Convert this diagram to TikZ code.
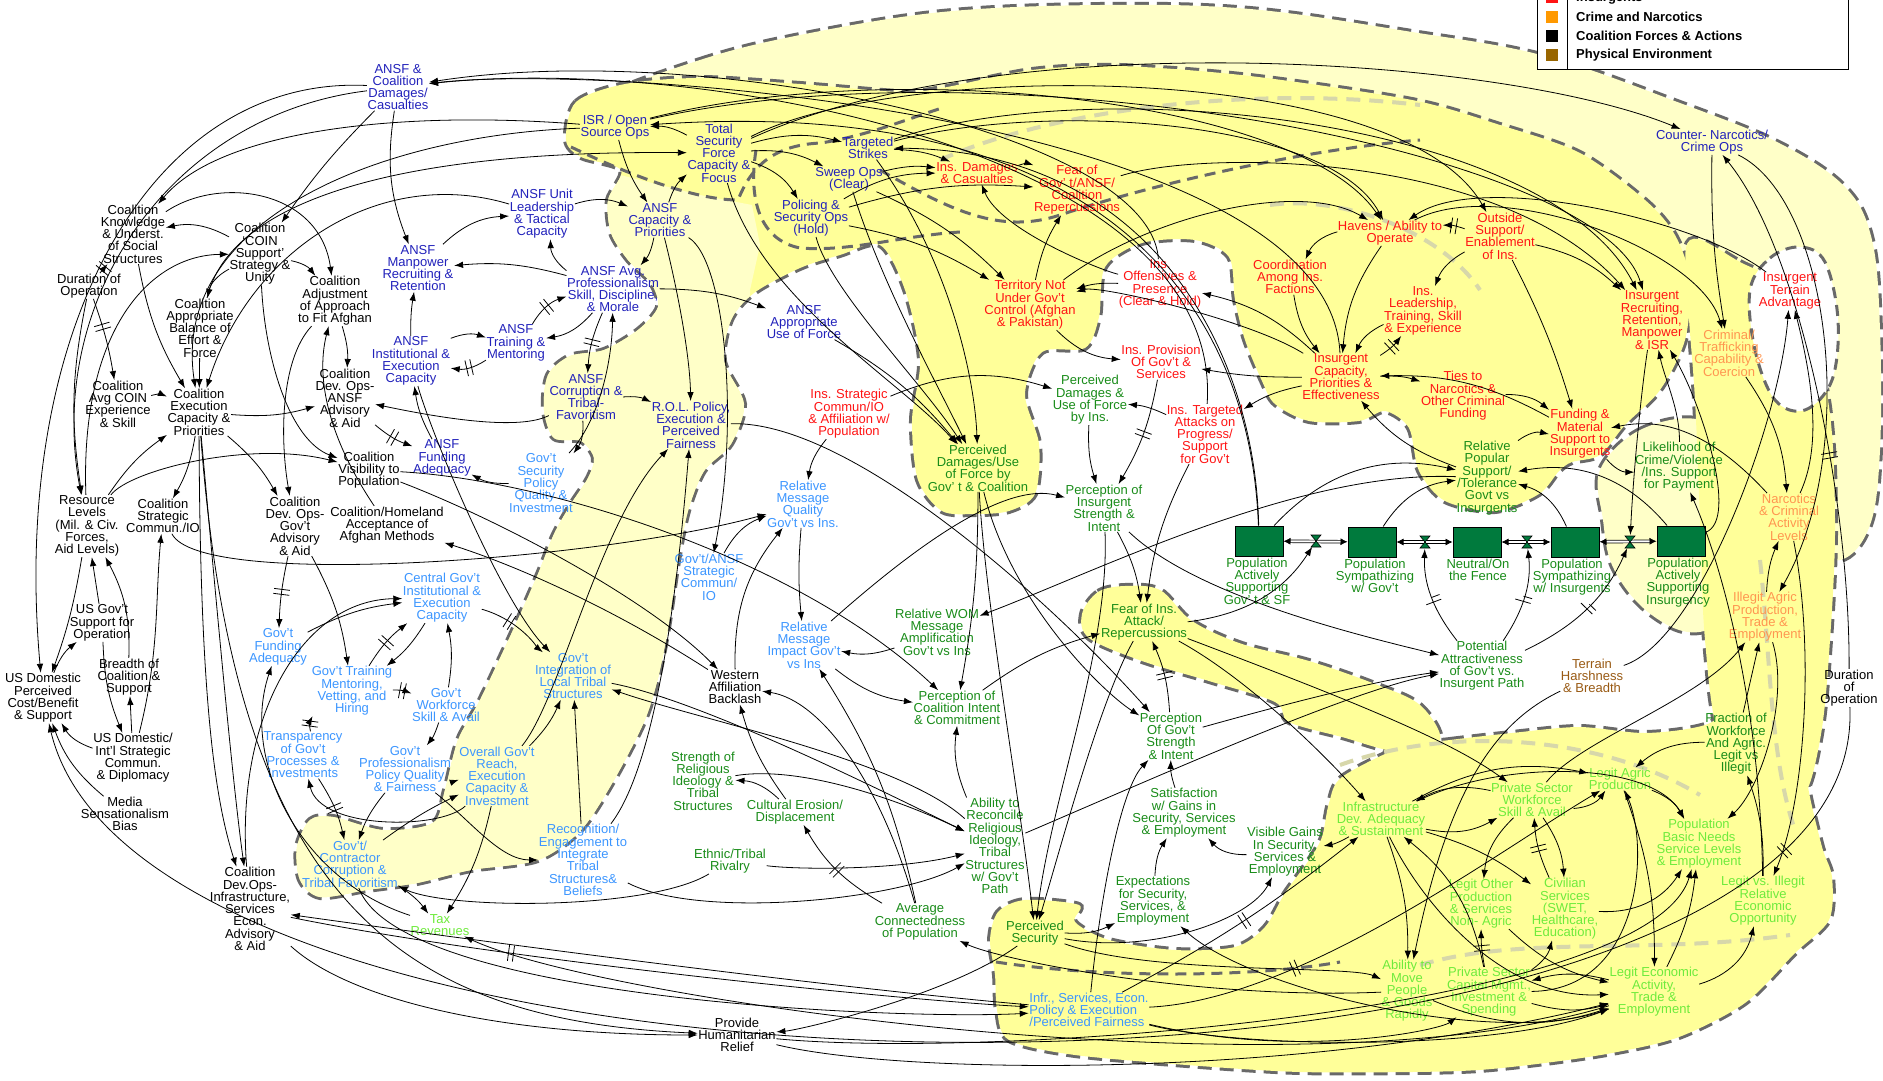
\documentclass[tikz,border=0pt]{standalone}
\usepackage{fontspec}
\setmainfont{Liberation Sans}
\usetikzlibrary{arrows.meta,decorations.markings}
\definecolor{cdb}{RGB}{34,34,187}
\definecolor{clb}{RGB}{60,150,255}
\definecolor{cred}{RGB}{255,20,20}
\definecolor{corg}{RGB}{255,150,80}
\definecolor{cgrn}{RGB}{25,140,25}
\definecolor{clg}{RGB}{110,235,60}
\definecolor{cbrn}{RGB}{153,90,20}
\definecolor{ypale}{RGB}{255,255,200}
\definecolor{ystrong}{RGB}{255,255,153}
\definecolor{bordgray}{RGB}{105,105,105}
\definecolor{lightdash}{RGB}{215,215,170}
\definecolor{stockgreen}{RGB}{0,122,61}
\definecolor{legorange}{RGB}{255,153,0}
\definecolor{legbrown}{RGB}{153,102,0}
\tikzset{
 nd/.style={align=center, inner sep=0.5pt, font=\fontsize{13}{12.3}\selectfont},
 tblk/.style={nd, text=black}, tdb/.style={nd, text=cdb}, tlb/.style={nd, text=clb},
 trd/.style={nd, text=cred}, tog/.style={nd, text=corg}, tgn/.style={nd, text=cgrn},
 tlg/.style={nd, text=clg}, tbn/.style={nd, text=cbrn},
 lnk/.style={-{Latex[length=9pt,width=6.5pt]}, line width=0.8pt, draw=black},
 dly/.style={postaction={decorate, decoration={markings, mark=at position #1 with {\draw[-, line width=0.8pt] (-2.5pt,-8pt) -- (-2.5pt,8pt) (2.5pt,-8pt) -- (2.5pt,8pt);}}}},
 dly/.default=0.5,
 blobborder/.style={draw=bordgray, line width=6pt, dash pattern=on 14pt off 8pt},
 idash/.style={draw=bordgray, line width=3pt, dash pattern=on 11pt off 7pt},
 ldash/.style={draw=lightdash, line width=4pt, dash pattern=on 14pt off 9pt},
 stockbox/.style={draw=black, fill=stockgreen, line width=1pt, minimum width=48pt, minimum height=30pt, inner sep=0pt},
 pipeln/.style={{Latex[length=7pt,width=7pt]}-{Latex[length=7pt,width=7pt]}, line width=0.7pt, double=white, double distance=2pt},
 valvepic/.pic={\draw[fill=stockgreen, line width=0.6pt] (-5,-6) -- (5,-6) -- (-5,6) -- (5,6) -- cycle;},
 legtxt/.style={anchor=west, inner sep=0pt, font=\bfseries\fontsize{13}{14}\selectfont}
}
\newcommand\BlobLight{plot[smooth cycle, tension=0.6] coordinates {(600,100) (700,60) (800,35) (942,12) (1100,5) (1250,9) (1412,32) (1545,56) (1680,103) (1779,143) (1845,187) (1872,240) (1880,330) (1880,450) (1870,525) (1840,560) (1795,540) (1745,420) (1690,300) (1600,220) (1400,160) (1100,140) (800,130) (640,125)}}
\newcommand\BlobMain{plot[smooth cycle, tension=0.5] coordinates {(566,140) (576,102) (625,84) (700,78) (800,84) (900,92) (942,88) (1032,70) (1120,66) (1250,76) (1412,100) (1500,125) (1580,153) (1645,200) (1675,235) (1690,280) (1685,340) (1660,390) (1625,425) (1600,455) (1572,462) (1559,471) (1539,494) (1495,511) (1445,501) (1419,471) (1409,428) (1385,411) (1359,421) (1309,421) (1275,404) (1262,381) (1245,340) (1235,300) (1229,257) (1195,240) (1142,243) (1105,267) (1099,317) (1085,348) (1042,352) (1025,394) (1039,444) (1035,494) (1009,511) (975,514) (942,511) (918,480) (912,420) (920,360) (905,290) (880,245) (840,255) (800,268) (754,293) (731,320) (724,361) (744,404) (731,444) (704,471) (688,511) (678,561) (668,628) (658,678) (644,722) (614,780) (581,830) (538,860) (471,870) (417,883) (367,890) (320,897) (300,880) (297,847) (310,820) (333,817) (383,830) (433,823) (445,790) (458,740) (480,700) (514,628) (538,574) (554,534) (571,504) (588,478) (594,458) (581,441) (554,438) (544,410) (548,375) (570,356) (604,350) (638,330) (658,307) (651,283) (628,260) (611,233) (608,200) (621,170) (581,157)}}
\newcommand\BlobStrip{plot[smooth cycle, tension=0.6] coordinates {(1690,240) (1740,262) (1800,300) (1828,400) (1835,520) (1830,640) (1820,740) (1800,800) (1760,790) (1720,740) (1705,640) (1700,520) (1695,400) (1688,300)}}
\newcommand\BlobLikeli{plot[smooth cycle, tension=0.6] coordinates {(1600,470) (1640,430) (1700,420) (1738,460) (1745,540) (1738,600) (1712,628) (1679,630) (1640,605) (1612,565) (1603,520)}}
\newcommand\BlobFear{plot[smooth cycle, tension=0.55] coordinates {(1082,614) (1098,592) (1125,586) (1160,590) (1192,621) (1242,644) (1309,661) (1375,684) (1420,705) (1440,740) (1400,752) (1342,737) (1289,722) (1275,702) (1209,681) (1142,661) (1089,638)}}
\newcommand\BlobBottom{plot[smooth cycle, tension=0.5] coordinates {(1402,747) (1450,740) (1512,733) (1579,727) (1645,733) (1705,725) (1750,700) (1800,720) (1808,787) (1822,847) (1832,877) (1829,920) (1795,953) (1745,1003) (1679,1037) (1612,1053) (1545,1063) (1479,1070) (1412,1072) (1300,1072) (1200,1066) (1075,1055) (1009,1040) (997,1010) (995,975) (990,940) (998,912) (1025,900) (1079,905) (1075,922) (1109,940) (1175,950) (1235,947) (1265,927) (1285,893) (1309,860) (1322,837) (1329,803) (1342,777)}}
\newcommand\BlobHole{plot[smooth cycle, tension=0.6] coordinates {(1750,290) (1770,258) (1800,247) (1825,262) (1838,320) (1832,380) (1805,410) (1775,400) (1755,350)}}
\begin{document}
\begin{tikzpicture}[x=1pt,y=-1pt]
\useasboundingbox (0,0) rectangle (1883,1081);
\clip (0,0) rectangle (1883,1081);
\fill[white] (0,0) rectangle (1883,1081);
% ---------- regions ----------
\draw[blobborder] \BlobLight;
\fill[ypale] \BlobLight;
\draw[blobborder] \BlobMain;
\draw[blobborder] \BlobStrip;
\draw[blobborder] \BlobLikeli;
\draw[blobborder] \BlobFear;
\draw[blobborder] \BlobBottom;
\fill[ystrong] \BlobMain;
\begin{scope}
\clip \BlobMain;
\fill[ypale] (560,160) -- (700,195) -- (752,205) -- (760,245) -- (750,290) -- (760,950) -- (270,950) -- (270,800) -- (500,600) -- (530,340) -- cycle;
\end{scope}
\fill[ypale] \BlobLikeli;
\fill[ystrong] \BlobStrip;
\fill[ystrong] \BlobFear;
\fill[ystrong] \BlobBottom;
\draw[draw=bordgray, line width=3pt, dash pattern=on 11pt off 7pt, fill=white] \BlobHole;
\draw[ldash] (940,160) .. controls (1050,110) and (1250,85) .. (1420,105);
\draw[ldash] (1270,205) .. controls (1340,195) and (1440,230) .. (1480,290);
\draw[ldash] (1340,765) .. controls (1450,725) and (1600,735) .. (1700,795);
\draw[ldash] (1420,965) .. controls (1520,935) and (1650,955) .. (1790,935);
\draw[ldash] (1760,560) .. controls (1770,650) and (1770,760) .. (1795,830);
\draw[idash] (571,147) .. controls (640,180) and (700,200) .. (738,200) .. controls (750,170) and (770,145) .. (821,143) .. controls (870,135) and (910,118) .. (942,108);
\draw[idash] (756,150) .. controls (748,200) and (760,240) .. (800,248) .. controls (850,252) and (900,236) .. (960,232);
\draw[idash] (880,170) .. controls (950,210) and (1000,235) .. (1060,215) .. controls (1150,185) and (1300,150) .. (1420,140);
\draw[idash] (996,962) .. controls (1100,978) and (1250,978) .. (1340,962);
% ---------- nodes ----------
\node[tblk] (cknow) at (133,234) {Coalition\\Knowledge\\\& Underst.\\of Social\\Structures};
\node[tblk] (dura) at (89,286) {Duration of\\Operation};
\node[tblk] (coin) at (260,254) {Coalition\\‘COIN\\Support’\\Strategy \&\\Unity};
\node[tblk] (cbal) at (200,328) {Coalition\\Appropriate\\Balance of\\Effort \&\\Force};
\node[tblk] (cadj) at (335,301) {Coalition\\Adjustment\\of Approach\\to Fit Afghan};
\node[tblk] (cavg) at (118,404) {Coalition\\Avg COIN\\Experience\\\& Skill};
\node[tblk] (cexec) at (199,412) {Coalition\\Execution\\Capacity \&\\Priorities};
\node[tblk] (cdevansf) at (345,398) {Coalition\\Dev. Ops-\\ANSF\\Advisory\\\& Aid};
\node[tblk] (cvis) at (369,470) {Coalition\\Visibility to\\Population};
\node[tblk] (res) at (87,526) {Resource\\Levels\\(Mil. \& Civ.\\Forces,\\Aid Levels)};
\node[tblk] (cstrat) at (163,516) {Coalition\\Strategic\\Commun./IO};
\node[tblk] (cdevgov) at (295,526) {Coalition\\Dev. Ops-\\Gov’t\\Advisory\\\& Aid};
\node[tblk] (chome) at (387,525) {Coalition/Homeland\\Acceptance of\\Afghan Methods};
\node[tblk] (usgov) at (102,623) {US Gov’t\\Support for\\Operation};
\node[tblk] (usdom) at (43,698) {US Domestic\\Perceived\\Cost/Benefit\\\& Support};
\node[tblk] (breadth) at (129,677) {Breadth of\\Coalition \&\\Support};
\node[tblk] (usintl) at (133,758) {US Domestic/\\Int’l  Strategic\\Commun.\\\& Diplomacy};
\node[tblk] (media) at (125,814) {Media\\Sensationalism\\Bias};
\node[tblk] (cdevinf) at (250,909) {Coalition\\Dev.Ops-\\Infrastructure,\\Services\\Econ.\\Advisory\\\& Aid};
\node[tblk] (west) at (735,687) {Western\\Affiliation\\Backlash};
\node[tblk] (relief) at (737,1035) {Provide\\Humanitarian\\Relief};
\node[tblk] (durb) at (1849,688) {Duration\\of\\Operation};
\node[tdb] (ansfdam) at (398,87) {ANSF \&\\Coalition\\Damages/\\Casualties};
\node[tdb] (isr) at (615,127) {ISR / Open\\Source Ops};
\node[tdb] (tsf) at (719,153) {Total\\Security\\Force\\Capacity \&\\Focus};
\node[tdb] (tstrike) at (868,148) {Targeted\\Strikes};
\node[tdb] (sweep) at (849,179) {Sweep Ops\\(Clear)};
\node[tdb] (police) at (811,218) {Policing \&\\Security Ops\\(Hold)};
\node[tdb] (ansfunit) at (542,214) {ANSF Unit\\Leadership\\\& Tactical\\Capacity};
\node[tdb] (ansfcap) at (660,220) {ANSF\\Capacity \&\\Priorities};
\node[tdb] (ansfprof) at (613,289) {ANSF Avg.\\Professionalism\\Skill, Discipline,\\\& Morale};
\node[tdb] (ansfuse) at (804,322) {ANSF\\Appropriate\\Use of Force};
\node[tdb] (ansftrain) at (516,343) {ANSF\\Training \&\\Mentoring};
\node[tdb] (ansfman) at (418,268) {ANSF\\Manpower\\Recruiting \&\\Retention};
\node[tdb] (ansfinst) at (411,361) {ANSF\\Institutional \&\\Execution\\Capacity};
\node[tdb] (ansffund) at (442,458) {ANSF\\Funding\\Adequacy};
\node[tdb] (ansfcorr) at (586,397) {ANSF\\Corruption \&\\Tribal-\\Favoritism};
\node[tdb] (rol) at (691,425) {R.O.L. Policy,\\Execution \&\\Perceived\\Fairness};
\node[tdb] (cnarc) at (1712,142) {Counter- Narcotics/\\Crime Ops};
\node[tlb] (govsec) at (541,483) {Gov’t\\Security\\Policy\\Quality \&\\Investment};
\node[tlb] (govcomm) at (709,577) {Gov’t/ANSF\\Strategic\\Commun/\\IO};
\node[tlb] (relqual) at (803,504) {Relative\\Message\\Quality\\Gov’t vs Ins.};
\node[tlb] (relimp) at (804,645) {Relative\\Message\\Impact Gov’t\\vs Ins};
\node[tlb] (govint) at (573,676) {Gov’t\\Integration of\\Local Tribal\\Structures};
\node[tlb] (central) at (442,598) {Central Gov’t\\Institutional \&\\Execution\\Capacity};
\node[tlb] (govfund) at (278,647) {Gov’t\\Funding\\Adequacy};
\node[tlb] (govtrain) at (352,691) {Gov’t Training\\Mentoring,\\Vetting, and\\Hiring};
\node[tlb] (govwork) at (446,705) {Gov’t\\Workforce\\Skill \& Avail};
\node[tlb] (transp) at (303,755) {Transparency\\of Gov’t\\Processes \&\\Investments};
\node[tlb] (govprof) at (405,769) {Gov’t\\Professionalism\\Policy Quality\\\& Fairness};
\node[tlb] (govcorr) at (350,864) {Gov’t/\\Contractor\\Corruption \&\\Tribal Favoritism};
\node[tlb] (overall) at (497,776) {Overall Gov’t\\Reach,\\Execution\\Capacity \&\\Investment};
\node[tlb] (recog) at (583,860) {Recognition/\\Engagement to\\Integrate\\Tribal\\Structures\&\\Beliefs};
\node[tlb, align=left] (infr) at (1089,1010) {Infr., Services, Econ.\\Policy \& Execution\\/Perceived Fairness};
\node[trd] (insdam) at (977,173) {Ins. Damages\\\& Casualties};
\node[trd] (fear) at (1077,190) {Fear of\\Gov’ t/ANSF/\\Coalition\\Repercussions};
\node[trd] (terr) at (1030,305) {Territory Not\\Under Gov’t\\Control (Afghan\\\& Pakistan)};
\node[trd] (insoff) at (1160,284) {Ins.\\Offensives \&\\Presence\\(Clear \& Hold)};
\node[trd] (havens) at (1390,233) {Havens / Ability to\\Operate};
\node[trd] (coord) at (1290,277) {Coordination\\Among Ins.\\Factions};
\node[trd] (insprov) at (1161,362) {Ins. Provision\\Of Gov’t \&\\Services};
\node[trd] (inscap) at (1341,377) {Insurgent\\Capacity,\\Priorities \&\\Effectiveness};
\node[trd] (inslead) at (1423,311) {Ins.\\Leadership,\\Training, Skill\\\& Experience};
\node[trd] (outside) at (1500,236) {Outside\\Support/\\Enablement\\of Ins.};
\node[trd] (insrec) at (1652,320) {Insurgent\\Recruiting,\\Retention,\\Manpower\\\& ISR};
\node[trd] (terrain) at (1790,291) {Insurgent\\Terrain\\Advantage};
\node[trd] (ties) at (1463,396) {Ties to\\Narcotics \&\\Other Criminal\\Funding};
\node[trd] (funding) at (1580,434) {Funding \&\\Material\\Support to\\Insurgents};
\node[trd] (insstrat) at (849,414) {Ins. Strategic\\Commun/IO\\\& Affiliation w/\\Population};
\node[trd] (instarg) at (1205,434) {Ins. Targeted\\Attacks on\\Progress/\\Support\\for Gov’t};
\node[tog] (criminal) at (1729,353) {Criminal/\\Trafficking\\Capability \&\\Coercion};
\node[tog] (narc) at (1789,517) {Narcotics\\\& Criminal\\Activity\\Levels};
\node[tog] (illegit) at (1765,617) {Illegit Agric\\Production,\\Trade \&\\Employment};
\node[tgn] (percdamins) at (1090,400) {Perceived\\Damages \&\\Use of Force\\by Ins.};
\node[tgn] (percdamgov) at (978,468) {Perceived\\Damages/Use\\of Force by\\Gov’ t \& Coalition};
\node[tgn] (percins) at (1104,508) {Perception of\\Insurgent\\Strength \&\\Intent};
\node[tgn] (relwom) at (937,632) {Relative WOM\\Message\\Amplification\\Gov’t vs Ins};
\node[tgn] (fearins) at (1144,622) {Fear of Ins.\\Attack/\\Repercussions};
\node[tgn] (relpop) at (1487,478) {Relative\\Popular\\Support/\\/Tolerance\\Govt vs\\Insurgents};
\node[tgn] (likeli) at (1679,467) {Likelihood of\\Crime/Violence\\/Ins. Support\\for Payment};
\node[tgn] (potential) at (1482,666) {Potential\\Attractiveness\\of Gov’t vs.\\Insurgent Path};
\node[tgn] (percoal) at (957,708) {Perception of\\Coalition Intent\\\& Commitment};
\node[tgn] (percgov) at (1171,736) {Perception\\Of Gov’t\\Strength\\\& Intent};
\node[tgn] (ability) at (995,846) {Ability to\\Reconcile\\Religious\\Ideology,\\Tribal\\Structures\\w/ Gov’t\\Path};
\node[tgn] (satisf) at (1184,813) {Satisfaction\\w/ Gains in\\Security, Services\\\& Employment};
\node[tgn] (visible) at (1285,852) {Visible Gains\\In Security,\\Services \&\\Employment};
\node[tgn] (expect) at (1153,901) {Expectations\\for Security,\\Services, \&\\Employment};
\node[tgn] (percsec) at (1035,933) {Perceived\\Security};
\node[tgn] (strength) at (703,781) {Strength of\\Religious\\Ideology \&\\Tribal\\Structures};
\node[tgn] (cultural) at (795,812) {Cultural Erosion/\\Displacement};
\node[tgn] (ethnic) at (730,861) {Ethnic/Tribal\\Rivalry};
\node[tgn] (avgconn) at (920,922) {Average\\Connectedness\\of Population};
\node[tgn] (fraction) at (1736,744) {Fraction of\\Workforce\\And Agric.\\Legit vs\\Illegit};
\node[tlg] (tax) at (440,925) {Tax\\Revenues};
\node[tlg] (infdev) at (1381,819) {Infrastructure\\Dev. Adequacy\\\& Sustainment};
\node[tlg] (pswork) at (1532,800) {Private Sector\\Workforce\\Skill \& Avail};
\node[tlg] (legagric) at (1620,779) {Legit Agric\\Production};
\node[tlg] (popbasic) at (1699,844) {Population\\Basic Needs\\Service Levels\\\& Employment};
\node[tlg] (legother) at (1481,904) {Legit Other\\Production\\\& Services\\Non- Agric};
\node[tlg] (civil) at (1565,909) {Civilian\\Services\\(SWET,\\Healthcare,\\Education)};
\node[tlg] (legvs) at (1763,901) {Legit vs. Illegit\\Relative\\Economic\\Opportunity};
\node[tlg] (move) at (1407,991) {Ability to\\Move\\People\\\& Goods\\Rapidly};
\node[tlg] (pscap) at (1489,992) {Private Sector\\Capital Mgmt.,\\Investment \&\\Spending};
\node[tlg] (legecon) at (1654,992) {Legit Economic\\Activity,\\Trade \&\\Employment};
\node[tbn] (terrainh) at (1592,676) {Terrain\\Harshness\\\& Breadth};
\node[stockbox] (s1) at (1259,541) {};
\node[stockbox] (s2) at (1372,542) {};
\node[stockbox] (s3) at (1477,542) {};
\node[stockbox] (s4) at (1575,542) {};
\node[stockbox] (s5) at (1681,541) {};
\node[tgn, anchor=north] (s1l) at (1257,557) {Population\\Actively\\Supporting\\Gov’ t \& SF};
\node[tgn, anchor=north] (s2l) at (1375,558) {Population\\Sympathizing\\w/ Gov’t};
\node[tgn, anchor=north] (s3l) at (1478,558) {Neutral/On\\the Fence};
\node[tgn, anchor=north] (s4l) at (1572,558) {Population\\Sympathizing\\w/ Insurgents};
\node[tgn, anchor=north] (s5l) at (1678,557) {Population\\Actively\\Supporting\\Insurgency};
\coordinate (v1) at (1316,541);
\coordinate (v2) at (1425,542);
\coordinate (v3) at (1527,542);
\coordinate (v4) at (1630,542);
\draw[pipeln] (s1) -- (s2);
\draw[pipeln] (s2) -- (s3);
\draw[pipeln] (s3) -- (s4);
\draw[pipeln] (s4) -- (s5);
\pic at (v1) {valvepic};
\pic at (v2) {valvepic};
\pic at (v3) {valvepic};
\pic at (v4) {valvepic};
% ---------- connectors ----------
\draw[lnk] (ansfdam) .. controls (150,75) and (10,330) .. (usdom);
\draw[lnk] (ansfdam) .. controls (170,115) and (45,300) .. (res);
\draw[lnk] (ansfdam) to[bend right=5] (coin);
\draw[lnk] (ansfdam) to[bend right=15] (ansfman);
\draw[lnk,dly] (dura) -- (cknow);
\draw[lnk,dly=0.35] (dura) to[bend left=5] (cavg);
\draw[lnk] (dura) to[bend right=10] (res);
\draw[lnk] (coin) to[bend right=20] (cknow);
\draw[lnk] (coin) to[bend left=20] (cadj);
\draw[lnk] (coin) to[bend right=25] (cbal);
\draw[lnk] (cknow) .. controls (220,175) and (320,190) .. (cadj);
\draw[lnk] (res) .. controls (80,330) and (150,255) .. (coin);
\draw[lnk] (cbal) .. controls (230,200) and (400,150) .. (tsf);
\draw[lnk] (chome) .. controls (330,440) and (315,380) .. (cadj);
\draw[lnk] (cadj) to[bend left=10] (cdevansf);
\draw[lnk] (isr) .. controls (400,110) and (220,130) .. (cknow);
\draw[lnk] (isr) .. controls (380,135) and (170,220) .. (cexec);
\draw[lnk] (ansfunit) .. controls (380,165) and (250,250) .. (cexec);
\draw[lnk] (cknow) to[bend right=10] (cexec);
\draw[lnk] (cbal) -- (cexec);
\draw[lnk] (coin) .. controls (265,360) and (290,440) .. (cvis);
\draw[lnk] (ansfman) to[bend left=20] (ansfunit);
\draw[lnk] (ansfprof) to[bend right=10] (ansfman);
\draw[lnk] (ansfinst) to[bend left=5] (ansfman);
\draw[lnk] (ansfinst) to[bend left=20] (ansftrain);
\draw[lnk,dly] (ansftrain) to[bend left=20] (ansfinst);
\draw[lnk,dly] (ansftrain) to[bend left=20] (ansfprof);
\draw[lnk] (ansfprof) to[bend left=20] (ansftrain);
\draw[lnk] (ansfprof) to[bend left=25] (ansfunit);
\draw[lnk] (ansfunit) to[bend left=20] (ansfcap);
\draw[lnk] (isr) to[bend right=10] (ansfcap);
\draw[lnk] (tsf) to[bend right=15] (isr);
\draw[lnk] (s1) .. controls (1250,300) and (1100,95) .. (isr);
\draw[lnk] (tsf) to[bend left=15] (tstrike);
\draw[lnk] (tsf) to[bend left=15] (sweep);
\draw[lnk] (tsf) to[bend left=20] (police);
\draw[lnk] (ansfcap) to[bend left=15] (tsf);
\draw[lnk] (ansfcap) to[bend left=15] (ansfprof);
\draw[lnk] (ansfprof) to[bend left=10] (ansfuse);
\draw[lnk] (ansfcap) .. controls (680,300) and (690,360) .. (rol);
\draw[lnk] (ansfcap) .. controls (725,260) and (740,420) .. (govcomm);
\draw[lnk] (tstrike) to[bend left=10] (insdam);
\draw[lnk] (sweep) to[bend left=10] (insdam);
\draw[lnk] (police) to[bend left=15] (insdam);
\draw[lnk] (tsf) .. controls (760,300) and (900,380) .. (percdamgov);
\draw[lnk] (ansfuse) to[bend left=10] (percdamgov);
\draw[lnk] (sweep) .. controls (880,280) and (935,380) .. (percdamgov);
\draw[lnk] (police) .. controls (830,290) and (920,380) .. (percdamgov);
\draw[lnk] (tstrike) .. controls (950,260) and (975,380) .. (percdamgov);
\draw[lnk] (insoff) .. controls (1150,130) and (700,40) .. (ansfdam);
\draw[lnk] (instarg) .. controls (1225,150) and (700,55) .. (ansfdam);
\draw[lnk] (inscap) .. controls (1330,120) and (620,62) .. (ansfdam);
\draw[lnk] (insdam) to[bend left=20] (fear);
\draw[lnk] (terr) to[bend left=10] (fear);
\draw[lnk] (police) to[bend left=10] (fear);
\draw[lnk] (fear) .. controls (1200,150) and (1500,150) .. (insrec);
\draw[lnk] (insoff) to[bend right=10] (terr);
\draw[lnk] (insoff) .. controls (1100,270) and (1000,230) .. (insdam);
\draw[lnk] (sweep) to[bend left=10] (terr);
\draw[lnk] (police) to[bend left=10] (terr);
\draw[lnk] (terr) .. controls (1150,215) and (1300,180) .. (havens);
\draw[lnk] (inscap) .. controls (1250,320) and (1100,285) .. (terr);
\draw[lnk] (terr) to[bend right=20] (insprov);
\draw[lnk] (havens) to[bend right=25] (coord);
\draw[lnk] (havens) to[bend right=15] (inscap);
\draw[lnk] (coord) to[bend right=15] (inscap);
\draw[lnk] (inslead) to[bend right=20] (inscap);
\draw[lnk,dly] (inscap) to[bend right=10] (inslead);
\draw[lnk] (inscap) to[bend right=15] (insoff);
\draw[lnk] (inscap) to[bend left=5] (insprov);
\draw[lnk] (isr) .. controls (900,55) and (1300,100) .. (havens);
\draw[lnk] (tstrike) .. controls (1050,100) and (1330,120) .. (havens);
\draw[lnk,dly] (outside) to[bend right=10] (havens);
\draw[lnk] (outside) to[bend right=20] (inslead);
\draw[lnk] (outside) to[bend left=15] (insrec);
\draw[lnk] (tstrike) .. controls (1100,70) and (1550,120) .. (insrec);
\draw[lnk] (tsf) .. controls (900,60) and (1400,60) .. (outside);
\draw[lnk] (tsf) .. controls (1000,25) and (1500,55) .. (cnarc);
\draw[lnk] (cnarc) to[bend right=5] (criminal);
\draw[lnk] (cnarc) .. controls (1830,200) and (1860,450) .. (illegit);
\draw[lnk] (havens) .. controls (1500,175) and (1700,250) .. (criminal);
\draw[lnk] (terrain) .. controls (1700,220) and (1480,170) .. (havens);
\draw[lnk] (terrainh) .. controls (1700,640) and (1780,420) .. (terrain);
\draw[lnk] (narc) .. controls (1820,450) and (1815,390) .. (terrain);
\draw[lnk] (criminal) to[bend left=15] (narc);
\draw[lnk] (illegit) to[bend left=10] (narc);
\draw[lnk] (fraction) -- (illegit);
\draw[lnk] (narc) .. controls (1700,420) and (1650,420) .. (funding);
\draw[lnk] (ties) to[bend left=20] (funding);
\draw[lnk] (outside) to[bend left=5] (funding);
\draw[lnk] (relpop) to[bend left=25] (funding);
\draw[lnk] (funding) to[bend right=25] (likeli);
\draw[lnk] (legvs) .. controls (1760,700) and (1720,560) .. (likeli);
\draw[lnk] (s5) .. controls (1740,520) and (1700,400) .. (insrec);
\draw[lnk] (likeli) .. controls (1680,410) and (1665,380) .. (insrec);
\draw[lnk,shorten >=7pt] (insrec) .. controls (1640,400) and (1633,480) .. (v4);
\draw[lnk] (funding) to[bend right=15] (inscap);
\draw[lnk] (relpop) to[bend left=15] (inscap);
\draw[lnk] (inscap) to[bend left=10] (ties);
\draw[lnk] (s1) to[bend left=30] (relpop);
\draw[lnk] (s2) to[bend left=25] (relpop);
\draw[lnk] (s4) to[bend right=25] (relpop);
\draw[lnk] (s5) to[bend right=30] (relpop);
\draw[lnk] (relpop) .. controls (1300,470) and (1100,570) .. (relwom);
\draw[lnk,dly=0.45,shorten >=7pt] (potential) to[bend left=20] (v2);
\draw[lnk,dly=0.45,shorten >=7pt] (potential) to[bend right=20] (v3);
\draw[lnk,dly=0.5,shorten >=7pt] (potential) to[bend right=20] (v4);
\draw[lnk,shorten >=7pt] (fearins) to[bend right=25] (v1);
\draw[lnk] (percins) .. controls (1200,600) and (1380,640) .. (potential);
\draw[lnk] (percgov) .. controls (1300,700) and (1380,680) .. (potential);
\draw[lnk] (ability) .. controls (1150,780) and (1350,690) .. (potential);
\draw[lnk] (terrainh) .. controls (1500,720) and (1450,780) .. (move);
\draw[lnk] (percdamins) to[bend right=10] (percins);
\draw[lnk,dly] (insprov) to[bend left=10] (percins);
\draw[lnk] (instarg) to[bend right=10] (percdamins);
\draw[lnk] (inscap) to[bend right=10] (instarg);
\draw[lnk] (percins) to[bend left=10] (fearins);
\draw[lnk] (instarg) to[bend right=10] (fearins);
\draw[lnk] (insstrat) to[bend left=20] (percdamins);
\draw[lnk] (percdamgov) to[bend left=5] (percoal);
\draw[lnk] (percdamgov) .. controls (1010,600) and (1100,690) .. (percgov);
\draw[lnk] (percoal) to[bend left=10] (fearins);
\draw[lnk,dly] (percgov) to[bend right=10] (fearins);
\draw[lnk] (fearins) .. controls (1100,700) and (1060,850) .. (percsec);
\draw[lnk] (percins) .. controls (1110,650) and (1050,800) .. (percsec);
\draw[lnk] (percdamgov) .. controls (985,600) and (1020,800) .. (percsec);
\draw[lnk] (fearins) .. controls (1250,680) and (1330,760) .. (infdev);
\draw[lnk] (rol) .. controls (850,420) and (1050,600) .. (percgov);
\draw[lnk] (satisf) to[bend left=10] (percgov);
\draw[lnk] (infr) .. controls (1100,900) and (1120,790) .. (percgov);
\draw[lnk] (expect) to[bend left=15] (satisf);
\draw[lnk] (visible) to[bend left=25] (satisf);
\draw[lnk] (percsec) to[bend right=15] (expect);
\draw[lnk] (percsec) .. controls (1150,955) and (1250,920) .. (visible);
\draw[lnk] (infdev) to[bend left=10] (visible);
\draw[lnk] (ability) to[bend left=15] (percoal);
\draw[lnk] (strength) .. controls (800,765) and (900,800) .. (ability);
\draw[lnk] (ethnic) .. controls (800,870) and (900,870) .. (ability);
\draw[lnk] (recog) .. controls (700,920) and (900,900) .. (ability);
\draw[lnk] (govint) .. controls (700,700) and (880,790) .. (ability);
\draw[lnk] (percsec) .. controls (950,995) and (800,1030) .. (relief);
\draw[lnk,dly] (infr) to[bend right=5] (infdev);
\draw[lnk,dly=0.3] (infr) .. controls (1300,1000) and (1500,850) .. (legagric);
\draw[lnk] (infr) .. controls (1250,1050) and (1500,1050) .. (legecon);
\draw[lnk] (legecon) .. controls (1500,1050) and (1250,990) .. (expect);
\draw[lnk] (percsec) .. controls (1150,975) and (1350,965) .. (move);
\draw[lnk] (infdev) to[bend left=10] (move);
\draw[lnk] (pscap) to[bend right=20] (infdev);
\draw[lnk] (infdev) .. controls (1420,900) and (1500,1000) .. (legecon);
\draw[lnk] (pswork) to[bend right=20] (infdev);
\draw[lnk] (infdev) to[bend right=20] (pswork);
\draw[lnk] (infdev) to[bend left=10] (civil);
\draw[lnk] (infdev) to[bend left=20] (legagric);
\draw[lnk] (pswork) to[bend right=25] (legagric);
\draw[lnk] (pswork) to[bend right=20] (legother);
\draw[lnk,dly] (civil) to[bend left=10] (pswork);
\draw[lnk] (pswork) to[bend left=15] (civil);
\draw[lnk] (legagric) to[bend left=20] (popbasic);
\draw[lnk] (legagric) to[bend left=10] (legecon);
\draw[lnk] (pscap) .. controls (1640,990) and (1650,850) .. (legagric);
\draw[lnk] (civil) to[bend right=30] (popbasic);
\draw[lnk] (legecon) to[bend right=10] (popbasic);
\draw[lnk] (fraction) to[bend right=20] (legagric);
\draw[lnk] (legvs) to[bend right=10] (fraction);
\draw[lnk] (illegit) .. controls (1790,700) and (1760,790) .. (popbasic);
\draw[lnk] (narc) .. controls (1815,650) and (1805,800) .. (legvs);
\draw[lnk] (legecon) to[bend right=30] (legvs);
\draw[lnk] (legother) to[bend right=15] (legecon);
\draw[lnk,dly] (pscap) to[bend left=5] (legother);
\draw[lnk] (pscap) to[bend right=20] (civil);
\draw[lnk] (legecon) to[bend right=15] (pscap);
\draw[lnk] (pscap) to[bend right=15] (legecon);
\draw[lnk] (move) to[bend right=20] (legecon);
\draw[lnk] (infr) .. controls (1300,1060) and (1440,1030) .. (pscap);
\draw[lnk] (relief) .. controls (1000,1060) and (1650,1010) .. (popbasic);
\draw[lnk,dly=0.08] (durb) .. controls (1870,1150) and (150,1150) .. (usdom);
\draw[lnk,dly=0.4] (durb) .. controls (1850,500) and (1800,250) .. (cnarc);
\draw[lnk] (cexec) to[bend right=10] (cdevansf);
\draw[lnk,dly] (cdevansf) to[bend right=10] (ansffund);
\draw[lnk] (ansffund) to[bend left=10] (ansfinst);
\draw[lnk] (ansfcorr) .. controls (520,430) and (450,420) .. (cdevansf);
\draw[lnk] (res) .. controls (130,470) and (250,440) .. (cvis);
\draw[lnk] (cavg) to[bend left=20] (cexec);
\draw[lnk] (res) to[bend left=10] (cexec);
\draw[lnk] (cexec) to[bend left=10] (cstrat);
\draw[lnk] (cexec) to[bend left=10] (cdevgov);
\draw[lnk] (cadj) .. controls (280,360) and (280,440) .. (cdevgov);
\draw[lnk,dly] (cdevgov) to[bend right=5] (govfund);
\draw[lnk] (cdevgov) to[bend left=10] (govtrain);
\draw[lnk] (cstrat) .. controls (200,590) and (600,560) .. (relqual);
\draw[lnk] (usintl) .. controls (160,650) and (155,600) .. (cstrat);
\draw[lnk] (usgov) -- (res);
\draw[lnk] (breadth) to[bend right=15] (res);
\draw[lnk] (res) to[bend left=5] (usdom);
\draw[lnk] (usdom) to[bend left=15] (usgov);
\draw[lnk] (usgov) to[bend right=10] (usintl);
\draw[lnk] (usintl) -- (breadth);
\draw[lnk] (usintl) to[bend left=20] (usdom);
\draw[lnk] (media) to[bend left=15] (usdom);
\draw[lnk] (cexec) .. controls (200,700) and (215,800) .. (cdevinf);
\draw[lnk] (cexec) .. controls (225,700) and (235,800) .. (cdevinf);
\draw[lnk,dly=0.3] (cdevinf) .. controls (500,960) and (900,1000) .. (infr);
\draw[lnk] (cexec) .. controls (235,900) and (400,1020) .. (relief);
\draw[lnk] (cdevinf) .. controls (350,1000) and (500,1035) .. (relief);
\draw[lnk] (infr) .. controls (800,985) and (400,930) .. (cdevinf);
\draw[lnk] (tax) .. controls (300,880) and (240,760) .. (govfund);
\draw[lnk] (cdevinf) .. controls (235,720) and (300,600) .. (central);
\draw[lnk] (govfund) to[bend left=10] (central);
\draw[lnk,dly] (govtrain) to[bend left=10] (central);
\draw[lnk] (central) to[bend left=10] (govtrain);
\draw[lnk,dly] (govtrain) to[bend left=10] (govwork);
\draw[lnk] (govwork) to[bend right=10] (central);
\draw[lnk,dly] (transp) to[bend left=20] (govtrain);
\draw[lnk,dly] (transp) to[bend left=10] (govcorr);
\draw[lnk] (govprof) to[bend right=10] (govcorr);
\draw[lnk] (govprof) to[bend right=10] (overall);
\draw[lnk] (overall) .. controls (440,830) and (320,830) .. (transp);
\draw[lnk] (govcorr) to[bend left=10] (tax);
\draw[lnk] (overall) to[bend left=10] (tax);
\draw[lnk] (govcorr) to[bend left=5] (overall);
\draw[lnk] (govcorr) .. controls (400,1000) and (900,1020) .. (infr);
\draw[lnk] (govwork) to[bend left=10] (govprof);
\draw[lnk,dly=0.4] (central) .. controls (520,620) and (540,650) .. (govint);
\draw[lnk] (recog) -- (govint);
\draw[lnk] (overall) to[bend right=10] (govint);
\draw[lnk] (ability) .. controls (900,760) and (700,720) .. (govint);
\draw[lnk] (govprof) .. controls (470,820) and (500,860) .. (recog);
\draw[lnk] (ethnic) .. controls (650,910) and (450,910) .. (govcorr);
\draw[lnk] (cultural) to[bend right=20] (strength);
\draw[lnk,dly] (avgconn) to[bend left=15] (cultural);
\draw[lnk] (cultural) to[bend left=10] (west);
\draw[lnk] (avgconn) to[bend right=10] (relimp);
\draw[lnk] (avgconn) .. controls (880,780) and (820,700) .. (west);
\draw[lnk] (cvis) .. controls (500,520) and (650,600) .. (west);
\draw[lnk] (west) to[bend left=20] (relqual);
\draw[lnk] (govcomm) to[bend left=20] (relqual);
\draw[lnk] (insstrat) to[bend right=15] (relqual);
\draw[lnk] (relqual) to[bend right=5] (relimp);
\draw[lnk] (relwom) to[bend left=15] (relimp);
\draw[lnk] (relimp) to[bend right=15] (percoal);
\draw[lnk] (relimp) .. controls (900,560) and (1000,480) .. (percins);
\draw[lnk] (west) .. controls (600,600) and (500,560) .. (chome);
\draw[lnk] (govsec) to[bend left=15] (ansffund);
\draw[lnk] (ansfcorr) to[bend left=20] (govsec);
\draw[lnk] (ansfcorr) to[bend left=15] (rol);
\draw[lnk] (govsec) .. controls (600,420) and (612,360) .. (ansfprof);
\draw[lnk,dly] (ansfprof) to[bend right=10] (ansfcorr);
\draw[lnk] (overall) .. controls (560,700) and (600,520) .. (rol);
\draw[lnk] (recog) .. controls (660,760) and (680,560) .. (rol);
\draw[lnk] (ansfinst) .. controls (430,430) and (500,600) .. (govint);
\draw[lnk] (isr) .. controls (1000,40) and (1600,150) .. (insrec);
\draw[lnk] (s1) .. controls (1255,350) and (1150,150) .. (tstrike);
\draw[lnk] (pswork) .. controls (1580,740) and (1700,700) .. (illegit);
\draw[lnk] (infdev) .. controls (1500,760) and (1650,760) .. (popbasic);
\draw[lnk] (fearins) .. controls (1350,700) and (1450,740) .. (pswork);
\draw[lnk] (legecon) .. controls (1300,1100) and (600,1000) .. (tax);
\draw[lnk] (move) .. controls (1200,1000) and (1000,960) .. (avgconn);
\draw[lnk] (relief) .. controls (900,1075) and (1300,1080) .. (legecon);
\draw[lnk] (cvis) .. controls (550,480) and (800,560) .. (percoal);
% ---------- legend ----------
\draw[fill=white, line width=0.8pt] (1537,-40) rectangle (1848,69);
\draw[line width=0.8pt] (1567,-40) -- (1567,69);
\node[fill=cred, minimum size=12pt, inner sep=0pt] (lsq1) at (1552,-3) {};
\node[fill=legorange, minimum size=12pt, inner sep=0pt] (lsq2) at (1552,17) {};
\node[fill=black, minimum size=12pt, inner sep=0pt] (lsq3) at (1552,36) {};
\node[fill=legbrown, minimum size=12pt, inner sep=0pt] (lsq4) at (1552,55) {};
\node[legtxt] (lt1) at (1576,-2) {Insurgents};
\node[legtxt] (lt2) at (1576,17) {Crime and Narcotics};
\node[legtxt] (lt3) at (1576,36) {Coalition Forces \& Actions};
\node[legtxt] (lt4) at (1576,55) {Physical Environment};
\end{tikzpicture}
\end{document}
